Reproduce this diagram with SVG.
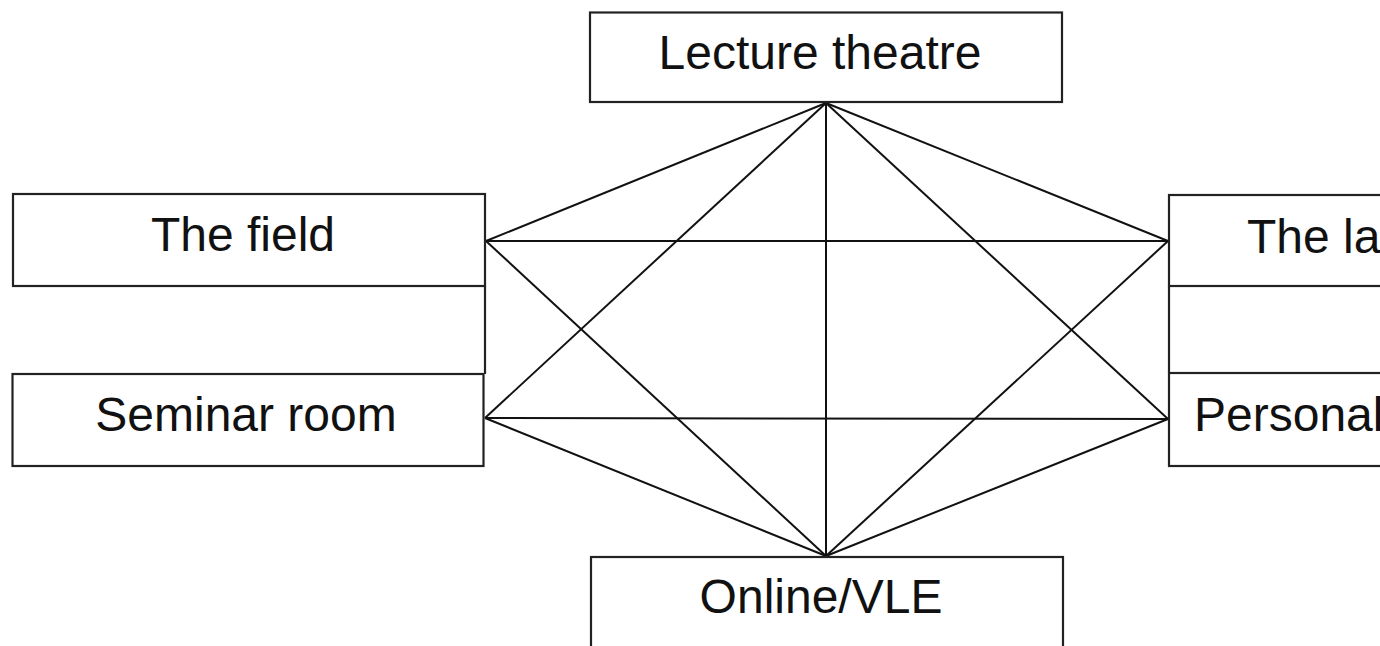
<svg xmlns="http://www.w3.org/2000/svg" width="1380" height="646" viewBox="0 0 1380 646">
<style>
.box{fill:#fff;stroke:#222;stroke-width:2.2}
.lbl{font-family:"Liberation Sans",Arial,sans-serif;font-size:48px;fill:#111;text-anchor:middle}
.lblL{font-family:"Liberation Sans",Arial,sans-serif;font-size:48px;fill:#111}
#connectors line{stroke:#111;stroke-width:2}
</style>
<rect width="1380" height="646" fill="#fff"/>
<g id="connectors">
<line x1="826" y1="103" x2="486" y2="241"/>
<line x1="826" y1="103" x2="485" y2="418"/>
<line x1="826" y1="103" x2="1168" y2="241"/>
<line x1="826" y1="103" x2="1168" y2="419"/>
<line x1="826" y1="103" x2="826" y2="556"/>
<line x1="486" y1="241" x2="1168" y2="241"/>
<line x1="486" y1="241" x2="826" y2="556"/>
<line x1="485" y1="418" x2="1168" y2="419"/>
<line x1="485" y1="418" x2="826" y2="556"/>
<line x1="1168" y1="241" x2="826" y2="556"/>
<line x1="1168" y1="419" x2="826" y2="556"/>
</g>
<g id="lecture">
<rect class="box" x="590" y="12.5" width="472" height="89.5"/>
<text class="lbl" x="820" y="69">Lecture theatre</text>
</g>
<g id="field">
<rect class="box" x="13" y="194" width="472" height="92"/>
<text class="lbl" x="243" y="251">The field</text>
</g>
<g id="seminar">
<rect class="box" x="12.5" y="374" width="471" height="92"/>
<text class="lbl" x="246" y="431">Seminar room</text>
</g>
<g id="left-link">
<line x1="485" y1="286" x2="485" y2="374" stroke="#222" stroke-width="2.2"/>
</g>
<g id="lab">
<rect class="box" x="1169" y="195" width="472" height="91"/>
<text class="lblL" x="1247" y="253">The la</text>
</g>
<g id="personal">
<rect class="box" x="1169" y="373" width="472" height="93"/>
<text class="lblL" x="1194" y="431">Personal</text>
</g>
<g id="right-link">
<line x1="1169" y1="286" x2="1169" y2="373" stroke="#222" stroke-width="2.2"/>
</g>
<g id="online">
<rect class="box" x="591" y="557" width="472" height="92"/>
<text class="lbl" x="821" y="613">Online/VLE</text>
</g>
</svg>
